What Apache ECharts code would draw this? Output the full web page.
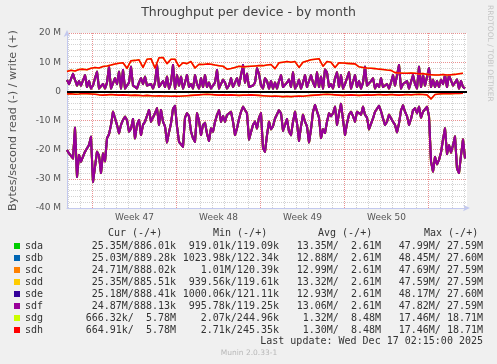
<!DOCTYPE html>
<html>
<head>
<meta charset="utf-8">
<script src="https://cdn.jsdelivr.net/npm/echarts@6/dist/echarts.min.js"></script>
<style>
html,body{margin:0;padding:0;background:#f0f0f0;}
#c{width:497px;height:364px;}
</style>
</head>
<body>
<div id="c"></div>
<script>
// ---------------- data ----------------
const devices = ['sda','sdb','sdc','sdd','sde','sdf','sdg','sdh'];

// read (-) throughput of sda..sdf, MB/s, one value every 4 hours
const readMain = [
 -20.1,-21.3,-20.7,-23.0,-12.5,-29.3,-21.8,-24.1,-22.4,-20.7,
 -21.3,-18.4,-15.6,-31.0,-31.5,-20.7,-22.0,-28.0,-21.3,-24.0,
 -16.1,-14.7,-11.5,-7.0,-6.5,-11.5,-14.4,-11.5,-9.8,-8.7,
 -9.8,-13.8,-12.8,-9.5,-16.1,-11.5,-9.8,-15.0,-11.5,-10.4,
 -9.8,-6.4,-10.4,-9.8,-7.5,-5.8,-11.5,-6.4,-10.4,-12.0,
 -17.5,-14.0,-11.0,-6.0,-5.0,-12.0,-17.3,-16.7,-19.0,-9.0,
 -7.5,-8.5,-13.8,-16.1,-17.3,-7.5,-10.0,-15.0,-11.5,-10.8,
 -14.5,-17.0,-12.7,-13.8,-10.5,-8.1,-6.5,-10.4,-8.5,-10.4,
 -8.1,-7.5,-7.0,-10.4,-15.0,-12.7,-9.5,-7.0,-5.3,-5.8,
 -7.5,-16.5,-16.0,-11.5,-10.4,-12.7,-9.0,-7.5,-19.5,-20.7,
 -15.0,-10.4,-13.0,-12.0,-9.3,-9.0,-6.5,-7.5,-13.5,-11.5,
 -9.5,-13.8,-15.0,-10.5,-7.0,-11.0,-17.0,-12.0,-8.0,-10.4,
 -12.0,-17.5,-13.0,-7.0,-4.7,-4.3,-9.0,-16.0,-13.0,-14.3,
 -10.4,-7.5,-8.5,-7.5,-5.3,-11.5,-7.5,-4.3,-4.5,-15.0,
 -11.0,-8.0,-7.0,-8.5,-10.4,-7.0,-6.5,-8.0,-5.3,-8.0,
 -9.0,-13.0,-13.5,-9.3,-7.0,-6.4,-5.0,-6.8,-9.3,-11.5,
 -10.4,-8.0,-8.5,-10.4,-11.5,-14.0,-11.0,-6.5,-4.8,-7.0,
 -8.5,-11.5,-9.5,-6.5,-5.8,-7.5,-5.3,-9.0,-7.0,-7.0,
 -5.3,-8.5,-24.0,-27.5,-22.5,-25.0,-23.5,-21.0,-16.5,-12.7,
 -21.5,-18.5,-21.0,-18.5,-15.5,-26.5,-28.0,-22.0,-16.5,-23.0
];
// write (+) throughput of sda..sdf, MB/s, one value every 4 hours
const writeMain = [
 3.9,2.5,3.0,6.0,3.9,2.0,3.5,2.0,1.5,5.5,
 1.5,3.5,1.0,2.0,4.5,6.7,1.0,1.5,2.5,1.0,
 3.0,8.4,1.0,1.0,4.5,2.5,6.7,1.0,7.3,1.0,
 1.5,3.0,8.4,2.0,2.0,1.0,3.0,4.5,2.5,5.0,
 2.0,1.5,2.5,1.0,3.0,9.0,1.5,1.0,3.5,1.5,
 5.0,1.0,3.0,9.0,1.0,5.5,2.0,5.0,1.0,3.0,
 5.6,1.5,2.5,1.0,5.5,2.5,1.0,4.5,1.5,5.5,
 1.5,3.0,1.0,1.5,3.0,7.3,1.0,1.0,4.0,3.0,
 1.0,2.0,4.5,1.5,3.0,4.5,2.0,1.5,9.0,3.0,
 6.0,1.5,1.0,2.0,3.0,7.9,6.0,2.0,1.0,4.5,
 3.5,1.0,3.5,1.0,3.0,1.0,3.5,5.5,1.5,1.0,
 3.0,4.0,1.5,6.5,1.0,2.0,4.0,1.0,3.0,5.5,
 1.5,1.0,5.5,3.0,1.5,6.5,1.5,5.0,1.0,7.5,
 6.5,1.5,2.5,1.0,4.5,6.5,1.5,5.5,1.0,2.5,
 3.0,6.5,1.0,1.5,5.5,1.5,3.5,1.0,3.0,8.4,
 2.0,1.5,3.5,4.5,1.0,2.5,1.5,4.5,1.5,1.5,
 2.5,1.0,3.0,5.5,2.0,1.5,9.0,1.0,2.5,2.0,
 3.5,1.0,1.0,5.5,2.5,1.0,8.4,1.5,5.5,2.0,
 1.5,7.9,1.5,4.0,1.5,3.5,1.5,4.0,2.5,5.5,
 1.5,5.5,5.0,2.0,1.5,4.0,1.0,3.5,1.5,1.0
];
// read (-) of sdg/sdh, MB/s, one value every 8 hours
const redRead = [
 -0.9,-0.8,-1.0,-0.9,-0.7,-0.8,-0.9,-1.0,-1.2,-1.3,
 -1.2,-1.1,-1.2,-1.3,-1.2,-1.3,-1.4,-1.3,-1.4,-1.5,
 -1.4,-1.5,-1.6,-1.5,-1.6,-1.6,-1.7,-1.6,-1.7,-1.6,
 -1.5,-1.4,-1.3,-1.2,-1.1,-1.0,-1.1,-1.2,-1.3,-1.2,
 -1.3,-1.2,-1.3,-1.4,-1.3,-1.3,-1.2,-1.3,-1.4,-1.5,
 -1.6,-1.7,-1.6,-1.7,-1.8,-1.7,-1.8,-1.7,-1.6,-1.7,
 -1.5,-1.4,-1.3,-1.2,-1.1,-1.0,-1.1,-1.2,-1.3,-1.4,
 -1.3,-1.2,-1.3,-1.4,-1.3,-1.2,-1.3,-1.2,-1.1,-1.2,
 -1.2,-1.1,-1.2,-1.3,-1.2,-1.1,-1.2,-1.1,-1.0,-1.1,
 -1.2,-2.6,-1.1,-0.9,-0.8,-0.7,-0.8,-0.7,-0.7,-0.6
];
// write (+) of sdg/sdh, MB/s, one value every 8 hours
const redWrite = [
 6.8,7.2,7.0,7.5,7.6,7.4,7.9,8.2,8.0,8.5,
 8.7,9.0,9.4,9.6,9.8,7.9,10.5,10.6,10.8,8.2,
 11.0,11.2,8.0,11.5,11.6,9.5,11.0,11.0,8.5,9.8,
 9.5,10.2,8.0,9.3,9.2,9.4,9.3,9.0,8.8,8.6,
 7.6,7.8,8.2,8.6,8.4,8.5,8.6,8.7,8.8,8.8,
 9.0,9.2,7.8,9.8,10.0,10.2,10.0,10.2,8.2,10.0,
 10.4,10.8,11.0,11.2,8.6,10.2,10.0,8.2,9.8,9.7,
 9.6,9.5,9.4,8.4,8.2,8.0,7.9,7.8,7.6,7.5,
 7.3,7.2,6.4,6.3,6.2,6.2,6.3,6.2,6.0,6.1,
 5.8,5.7,5.6,5.6,5.8,5.6,5.7,5.8,6.0,6.2
];

const weekLabels = ['Week 47','Week 48','Week 49','Week 50'];
const yTickValues = [-40,-30,-20,-10,0,10,20];

const curStat = ['25.35M/886.01k','25.03M/889.28k','24.71M/888.02k','25.35M/885.51k','25.18M/888.41k','24.87M/888.13k','666.32k/  5.78M','664.91k/  5.78M'];
const minStat = ['919.01k/119.09k','1023.98k/122.34k','1.01M/120.39k','939.56k/119.61k','1000.06k/121.11k','995.78k/119.25k','2.07k/244.96k','2.71k/245.35k'];
const avgStat = ['13.35M/  2.61M','12.88M/  2.61M','12.99M/  2.61M','13.32M/  2.61M','12.93M/  2.61M','13.06M/  2.61M','1.32M/  8.48M','1.30M/  8.48M'];
const maxStat = ['47.99M/ 27.59M','48.45M/ 27.60M','47.69M/ 27.59M','47.59M/ 27.59M','48.17M/ 27.60M','47.82M/ 27.59M','17.46M/ 18.71M','17.46M/ 18.71M'];
const headers = ['Cur (-/+)','Min (-/+)','Avg (-/+)','Max (-/+)'];
const lastUpdate = 'Last update: Wed Dec 17 02:15:00 2025';
const version = 'Munin 2.0.33-1';
const credit = 'RRDTOOL / TOBI OETIKER';

// ---------------- time scale (hours from left edge) ----------------
const SPAN = 800;          // 400 px * 2 h
const FIRST_DAY = 3;       // first midnight
const FIRST_WEEK = 51;     // first week boundary
const STEP_MAIN = 4, STEP_RED = 8;

const dayLines = [], weekLines = [], weekCenters = [];
for (let h = FIRST_DAY; h < SPAN; h += 24) {
  if ((h - FIRST_WEEK) % 168 === 0) weekLines.push(h); else dayLines.push(h);
}
weekLabels.forEach((_, k) => weekCenters.push(FIRST_WEEK + 84 + 168 * k));

// ---------------- styling ----------------
const palette = ['#00CC00','#0066B3','#FF8000','#FFCC00','#330099','#990099','#CCFF00','#FF0000'];
const widths  = [2.0, 2.0, 2.0, 2.3, 2.0, 2.0, 1.6, 1.6];
const FONT = 'DejaVu Sans';
const MONO = 'DejaVu Sans Mono';
const axisColor = '#c3c9ef';

const pairs = (arr, step) => arr.map((v, i) => [i * step, v]);

const series = [];
series.push({
  type: 'line', name: '__grid', data: [], silent: true, animation: false,
  markLine: {
    silent: true, symbol: ['none','none'], label: {show: false}, animation: false, z: 1,
    data: dayLines.map(h => ({xAxis: h, lineStyle: {color: '#d2d2d2', type: [1,1], width: 1}}))
      .concat(weekLines.map(h => ({xAxis: h, lineStyle: {color: 'rgba(225,110,110,0.75)', type: [1,1], width: 1}})))
  }
});
devices.forEach((d, k) => {
  const small = k >= 6;
  const r = small ? pairs(redRead, STEP_RED) : pairs(readMain, STEP_MAIN);
  const w = small ? pairs(redWrite, STEP_RED) : pairs(writeMain, STEP_MAIN);
  [r, w].forEach(data => {
    series.push({
      name: d, type: 'line', data: data, showSymbol: false, symbol: 'none',
      color: palette[k], itemStyle: {color: palette[k]},
      lineStyle: {color: palette[k], width: widths[k], join: 'round'}, animation: false, silent: true, z: 2
    });
  });
});
series.push({
  type: 'line', name: '__zero', data: [], silent: true, animation: false,
  markLine: {
    silent: true, symbol: ['none','none'], label: {show: false}, animation: false, z: 3,
    data: [{yAxis: 0, lineStyle: {color: '#000', type: 'solid', width: 2}}]
  }
});

const richBase = {fontFamily: MONO, fontSize: 10, color: '#333', lineHeight: 12};
const option = {
  backgroundColor: '#f0f0f0',
  animation: false,
  title: {
    text: 'Throughput per device - by month', left: 'center', top: 6, padding: 0,
    textStyle: {fontFamily: FONT, fontSize: 12.5, fontWeight: 'normal', color: '#444'}
  },
  grid: {left: 67, right: 30, top: 33, bottom: 156, show: true, backgroundColor: '#ffffff', borderWidth: 0},
  xAxis: {
    type: 'value', min: 0, max: SPAN,
    axisLine: {show: true, onZero: false, lineStyle: {color: axisColor, width: 1}, symbol: ['none','arrow'], symbolSize: [5,7], symbolOffset: [0,3]},
    axisTick: {show: false},
    splitLine: {show: false},
    axisLabel: {
      customValues: weekCenters, margin: 5,
      fontFamily: FONT, fontSize: 9, color: '#555',
      formatter: v => { const k = weekCenters.indexOf(v); return k >= 0 ? weekLabels[k] : ''; }
    }
  },
  yAxis: {
    type: 'value', min: -40, max: 20, interval: 10,
    name: 'Bytes/second read (-) / write (+)', nameLocation: 'middle', nameGap: 48, nameRotate: 90,
    nameTextStyle: {fontFamily: FONT, fontSize: 11.2, color: '#555'},
    axisLine: {show: true, onZero: false, lineStyle: {color: axisColor, width: 1}, symbol: ['none','arrow'], symbolSize: [5,7], symbolOffset: [0,3]},
    axisTick: {show: false},
    axisLabel: {
      margin: 6, fontFamily: FONT, fontSize: 9, color: '#555',
      formatter: v => yTickValues.indexOf(v) < 0 ? '' : (v === 0 ? '0' : v + ' M')
    },
    splitLine: {show: true, lineStyle: {color: 'rgba(225,110,110,0.75)', type: [1,1], width: 1}},
    minorTick: {show: false, splitNumber: 5},
    minorSplitLine: {show: true, lineStyle: {color: '#d2d2d2', type: [1,1], width: 1}}
  },
  legend: {
    data: devices, orient: 'vertical', left: 14, top: 240, padding: 0, itemGap: 0,
    itemWidth: 6, itemHeight: 6, icon: 'rect', selectedMode: false,
    textStyle: Object.assign({}, richBase, {
      rich: {
        n: Object.assign({}, richBase, {width: 50, align: 'left'}),
        c: Object.assign({}, richBase, {width: 101, align: 'right'}),
        m: Object.assign({}, richBase, {width: 103, align: 'right'}),
        a: Object.assign({}, richBase, {width: 102, align: 'right'}),
        x: Object.assign({}, richBase, {width: 102, align: 'right'})
      }
    }),
    formatter: name => {
      const k = devices.indexOf(name);
      return '{n|' + name + '}{c|' + curStat[k] + '}{m|' + minStat[k] + '}{a|' + avgStat[k] + '}{x|' + maxStat[k] + '}';
    }
  },
  graphic: [
    ...headers.map((h, k) => ({
      type: 'text', x: [108, 213, 318, 424][k], y: 233.5, silent: true,
      style: {text: h, fontFamily: MONO, fontSize: 10, fill: '#333', align: 'left', verticalAlign: 'middle'}
    })),
    {type: 'text', x: 483, y: 341.5, silent: true,
     style: {text: lastUpdate, fontFamily: MONO, fontSize: 10, fill: '#333', align: 'right', verticalAlign: 'middle'}},
    {type: 'text', x: 249, y: 353.5, silent: true,
     style: {text: version, fontFamily: FONT, fontSize: 7.5, fill: '#b8b8b8', align: 'center', verticalAlign: 'middle'}},
    {type: 'text', x: 490, y: 5, rotation: -Math.PI / 2, silent: true,
     style: {text: credit, fontFamily: FONT, fontSize: 7.5, fill: '#c4c4c4', align: 'left', verticalAlign: 'middle'}}
  ],
  series: series
};

const chart = echarts.init(document.getElementById('c'), null, {renderer: 'canvas'});
chart.setOption(option);
</script>
</body>
</html>
